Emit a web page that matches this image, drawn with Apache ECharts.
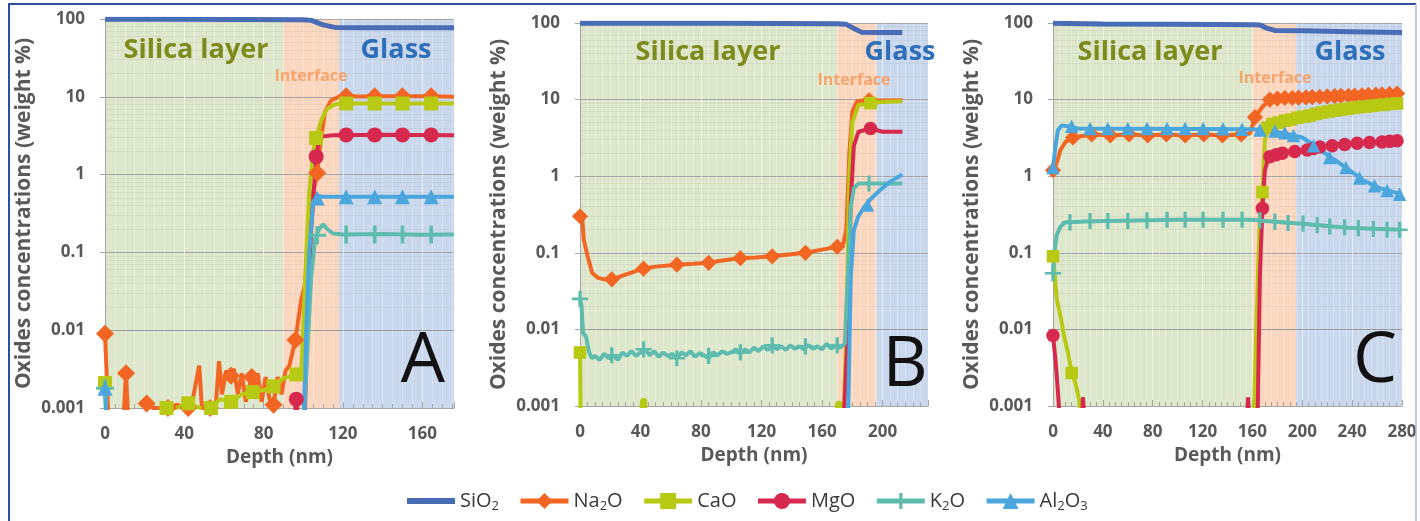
<!DOCTYPE html>
<html>
<head>
<meta charset="utf-8">
<title>Oxides concentration profiles</title>
<script src="https://cdn.jsdelivr.net/npm/echarts@6/dist/echarts.min.js"></script>
<style>
  html, body { margin: 0; padding: 0; background: #fff; }
  #chart { width: 1420px; height: 521px; }
</style>
</head>
<body>
<div id="chart"></div>
<script>
// ---- data: [depth nm, weight %] ----
var oxideNames = ['SiO2', 'Na2O', 'CaO', 'MgO', 'K2O', 'Al2O3'];
var depthTicks = [0, 40, 80, 120, 160, 200, 240, 280];
var concTicks = [0.001, 0.01, 0.1, 1, 10, 100];

// panel A : layer start, interface start, glass start, end of axis
var regionsA = [0, 90, 118, 176];
var sio2A = [[0,99],[30,99],[70,98.5],[100,98],[104,96],[110,84],[116,78],[130,77],[150,77],[176,77]];
var na2oA = [[0,0.009],[2,0.0005],[9,0.0005],[10.6,0.0028],[12,0.0005],[20,0.0005],[21,0.00114],[24,0.001],[31.7,0.001],[36,0.0011],[42,0.001],[44,0.0012],[47.5,0.0035],[49,0.0009],[53,0.001],[56,0.0012],[57.5,0.004],[59,0.0015],[61,0.003],[63.5,0.0026],[65,0.0032],[67,0.0015],[69,0.0028],[71,0.0012],[74,0.0025],[75.5,0.0018],[77,0.0028],[79,0.0012],[81,0.0025],[83,0.0013],[85,0.0011],[87,0.0025],[89,0.0015],[91,0.003],[93,0.0035],[96,0.0075],[99,0.025],[101,0.04],[103,0.2],[105,0.6],[107,1.05],[109,3],[111,6.5],[114,9],[118,10],[121.6,10.2],[130,10.1],[136,10.2],[150,10.2],[164.5,10.2],[176,10]];
var na2oAMarks = [[0,0.009],[10.6,0.0028],[21,0.00114],[31.7,0.001],[42,0.001],[53,0.001],[63.5,0.0026],[74,0.0025],[85,0.0011],[96,0.0075],[107,1.05],[121.6,10.2],[136,10.2],[150,10.2],[164.5,10.2]];
var caoA = [[0,0.0021],[1,0.0005],[28,0.0005],[31,0.001],[36,0.001],[42,0.00115],[48,0.001],[53.5,0.001],[58,0.0013],[63.6,0.0012],[69,0.0015],[74.5,0.0016],[80,0.0017],[85,0.0019],[90,0.0024],[96.5,0.0027],[99,0.003],[101,0.05],[103,0.6],[105,2],[106.5,2.95],[109,5],[112,7],[116,8],[121.6,8.2],[150,8.2],[176,8.2]];
var caoAMarks = [[0,0.0021],[31,0.001],[42,0.00115],[53.5,0.001],[63.6,0.0012],[74.5,0.0016],[85,0.0019],[96.5,0.0027],[106.5,2.95],[121.6,8.2],[136,8.2],[150,8.2],[164.5,8.2]];
var mgoA = [[95,0.0005],[96.5,0.0013],[98,0.0005],[100.5,0.0005],[102,0.01],[104,0.2],[106.5,1.7],[108,2.8],[110,3.1],[115,3.2],[140,3.25],[176,3.2]];
var mgoAMarks = [[96.5,0.0013],[106.5,1.7],[121.6,3.24],[136,3.24],[150,3.24],[164.5,3.24]];
var k2oA = [[0,0.0018],[1,0.0005],[100,0.0005],[102,0.005],[104,0.05],[106,0.15],[108,0.2],[110,0.23],[112,0.2],[115,0.175],[120,0.17],[140,0.172],[160,0.168],[176,0.17]];
var k2oAMarks = [[0,0.0018],[107,0.166],[121.6,0.17],[136,0.17],[150,0.17],[164.5,0.17]];
var al2o3A = [[0,0.0018],[1,0.0005],[100,0.0005],[101.5,0.01],[103,0.1],[105,0.45],[107,0.53],[110,0.52],[140,0.52],[176,0.52]];
var al2o3AMarks = [[0,0.0018],[107,0.5],[121.6,0.52],[136,0.52],[150,0.52],[164.5,0.52]];

// panel B
var regionsB = [0, 170, 196, 230];
var sio2B = [[0,99],[100,99],[170,98],[176,96],[181,85],[186,76],[200,75],[213,75]];
var na2oB = [[0,0.3],[1.5,0.28],[2.5,0.15],[5,0.09],[8,0.055],[12,0.047],[16,0.045],[21,0.045],[30,0.052],[42,0.062],[50,0.066],[64,0.07],[75,0.072],[85,0.074],[95,0.08],[106,0.085],[116,0.087],[127,0.09],[138,0.095],[149,0.1],[160,0.11],[170,0.12],[174,0.13],[176,0.2],[178,2],[180,7],[183,9.5],[191,9.8],[200,9.7],[213,9.8]];
var na2oBMarks = [[0,0.3],[21,0.045],[42,0.062],[64,0.07],[85,0.074],[106,0.085],[127,0.09],[149,0.1],[170,0.12],[191,9.8]];
var caoB = [[0,0.005],[0.5,0.0005],[40,0.0005],[41,0.0012],[43,0.0012],[44,0.0005],[168,0.0005],[170,0.0011],[172,0.0011],[174,0.0005],[176,0.01],[178,1],[180,5],[184,8.5],[192,9],[200,9.3],[213,9.5]];
var caoBMarks = [[0,0.005],[192,9]];
var mgoB = [[174,0.0005],[177,0.01],[179,0.5],[181,2.5],[184,3.8],[192,4.2],[200,3.8],[213,3.8]];
var mgoBMarks = [[192,4.2]];
var k2oB = [[0,0.025],[1,0.02],[2,0.009],[4,0.008],[6,0.005],[8,0.0042],[10,0.0045],[13,0.004],[16,0.0048],[19,0.0042],[22,0.0046],[25,0.004],[28,0.005],[31,0.0045],[34,0.0052],[37,0.0045],[40,0.005],[43,0.0055],[46,0.0046],[49,0.0052],[52,0.0044],[55,0.005],[58,0.0045],[61,0.0048],[64,0.0042],[67,0.005],[70,0.0046],[73,0.0052],[76,0.0044],[79,0.0049],[82,0.0046],[85,0.0042],[88,0.005],[91,0.0046],[94,0.0052],[97,0.0048],[100,0.005],[103,0.0055],[106,0.0048],[109,0.0055],[112,0.005],[115,0.0058],[118,0.0052],[121,0.006],[124,0.0054],[127,0.0062],[130,0.0055],[133,0.006],[136,0.0054],[139,0.0062],[142,0.0056],[145,0.006],[148,0.0055],[151,0.0062],[154,0.0056],[157,0.006],[160,0.0055],[163,0.0065],[166,0.0056],[169,0.0062],[172,0.0058],[175,0.0065],[177,0.05],[179,0.4],[181,0.7],[184,0.8],[192,0.8],[200,0.8],[213,0.8]];
var k2oBMarks = [[0,0.025],[21,0.0046],[42,0.0055],[64,0.0042],[85,0.0045],[106,0.005],[127,0.0062],[149,0.006],[170,0.0062],[191,0.8]];
var al2o3B = [[177,0.0005],[179,0.05],[181,0.2],[184,0.3],[188,0.4],[192,0.5],[198,0.65],[205,0.85],[213,1.05]];
var al2o3BMarks = [[190,0.42]];

// panel C
var regionsC = [0, 160, 195, 280];
var sio2C = [[0,99],[40,97],[100,96],[160,95],[166,94],[172,85],[178,80],[200,79],[240,77],[280,75]];
var na2oC = [[0,1.2],[3,1.5],[6,2.2],[10,2.8],[16,3.2],[31,3.5],[46,3.4],[61,3.5],[76,3.4],[91,3.5],[106,3.4],[121,3.5],[136,3.4],[151,3.5],[158,3.6],[162,5.9],[168,8],[174,10],[186,10.5],[197,10.6],[208,10.8],[220,11],[231,11.2],[242,11.3],[253,11.5],[264,11.7],[280,12]];
var na2oCMarks = [[0,1.2],[16,3.2],[31,3.5],[46,3.4],[61,3.5],[76,3.4],[91,3.5],[106,3.4],[121,3.5],[136,3.4],[151,3.5],[162,5.9],[174,10],[180,10.3],[186,10.5],[192,10.5],[197,10.6],[203,10.7],[208,10.8],[214,10.9],[220,11],[226,11.1],[231,11.2],[237,11.2],[242,11.3],[248,11.4],[253,11.5],[259,11.6],[264,11.7],[270,11.8],[276,12]];
var caoC = [[0,0.09],[1,0.06],[3,0.025],[6,0.015],[9,0.008],[12,0.005],[15,0.0027],[18,0.002],[21,0.0012],[23,0.0005],[161,0.0005],[163,0.01],[166,0.3],[168,0.62],[170,3],[173,4.5],[180,5],[190,5.5],[200,6],[220,7],[240,7.8],[260,8.5],[280,9]];
var caoCMarks = [[0,0.09],[15,0.0027],[168,0.62],[172,4.3],[176,4.8],[181,5],[186,5.3],[191,5.5],[196,5.8],[201,6],[206,6.2],[211,6.5],[216,6.8],[221,7],[226,7.2],[231,7.4],[236,7.6],[241,7.8],[246,8],[251,8.1],[256,8.3],[261,8.5],[266,8.6],[271,8.8],[276,8.9]];
var mgoC = [[0,0.0083],[2,0.004],[4,0.0015],[6,0.0005],[23,0.0005],[24,0.0013],[26,0.0005],[155,0.0005],[156.5,0.0013],[158,0.0005],[164,0.0005],[166,0.05],[168,0.38],[170,1.2],[173,1.8],[180,1.9],[190,2.1],[200,2.2],[220,2.5],[240,2.7],[260,2.8],[280,2.9]];
var mgoCMarks = [[0,0.0083],[168,0.38],[174,1.8],[179,1.9],[184,2],[194,2.1],[204,2.2],[209,2.3],[214,2.4],[224,2.5],[234,2.6],[244,2.7],[254,2.75],[264,2.8],[270,2.85],[276,2.9]];
var k2oC = [[0,0.054],[1,0.1],[3,0.17],[6,0.22],[10,0.25],[40,0.26],[100,0.27],[160,0.27],[170,0.26],[200,0.24],[240,0.21],[280,0.2]];
var k2oCMarks = [[0,0.054],[13.6,0.25],[29.7,0.26],[44,0.26],[60,0.26],[75.4,0.265],[91.5,0.27],[106,0.27],[120.4,0.27],[136.4,0.27],[151.7,0.27],[166,0.265],[178,0.255],[188.6,0.245],[200.6,0.24],[212,0.23],[222,0.22],[234,0.215],[245,0.21],[257,0.205],[268,0.2],[278,0.2]];
var al2o3C = [[0,1.3],[2,2.5],[4,4],[7,4.6],[12,4.5],[20,4.2],[160,4.1],[175,3.9],[190,3.5],[200,3.2],[210,2.5],[222,1.8],[235,1.3],[248,0.9],[262,0.7],[280,0.58]];
var al2o3CMarks = [[0,1.3],[15,4.5],[29.7,4.2],[44,4.2],[60,4.2],[75.4,4.2],[91.5,4.2],[106,4.2],[120.4,4.2],[136.4,4.15],[151.7,4.1],[166,4],[178,3.9],[186,3.7],[193,3.4],[209,2.5],[222,1.75],[235,1.3],[246,0.95],[258,0.75],[268,0.65],[278,0.58]];

// ---- styling ----
var FONT = '"Open Sans", "DejaVu Sans", sans-serif';
var GREY = '#595959';
var oxideColors = ['#4a6bb5', '#f26522', '#b8c914', '#d6294d', '#5ebcae', '#4aa6dd'];
var plusPath = 'path://M4,0H6V4.2H10V5.8H6V10H4V5.8H0V4.2H4Z';
var oxideSymbols = ['none', 'diamond', 'rect', 'circle', plusPath, 'triangle'];
var oxideSizes = [0, 18, 14, 15, 18, 15];
var regionColors = ['#dde7cb', '#fbd7bf', '#c9d8ed'];

var panels = [
  { grid: { left: 105, top: 19, width: 349, height: 389 }, regions: regionsA,
    traces: [sio2A, na2oA, caoA, mgoA, k2oA, al2o3A],
    marks: [[], na2oAMarks, caoAMarks, mgoAMarks, k2oAMarks, al2o3AMarks], size: 1 },
  { grid: { left: 580, top: 23, width: 348, height: 383 }, regions: regionsB,
    traces: [sio2B, na2oB, caoB, mgoB, k2oB, al2o3B],
    marks: [[], na2oBMarks, caoBMarks, mgoBMarks, k2oBMarks, al2o3BMarks], size: 0.9 },
  { grid: { left: 1053, top: 23, width: 349, height: 383 }, regions: regionsC,
    traces: [sio2C, na2oC, caoC, mgoC, k2oC, al2o3C],
    marks: [[], na2oCMarks, caoCMarks, mgoCMarks, k2oCMarks, al2o3CMarks], size: 0.9 }
];

// faint log minor grid lines (2..9 within each decade)
var minorLines = [];
concTicks.slice(0, -1).forEach(function (t) {
  for (var m = 2; m <= 9; m++) minorLines.push({ yAxis: t * m });
});

var grids = [], xAxes = [], yAxes = [], series = [];

panels.forEach(function (p, i) {
  grids.push(p.grid);
  xAxes.push({
    type: 'value', gridIndex: i, min: 0, max: p.regions[3], interval: 40, z: 1,
    axisLine: { show: true, onZero: false, lineStyle: { color: '#a6a6a6', width: 1 } },
    axisTick: { show: true, length: 6, inside: true, lineStyle: { color: '#a6a6a6' } },
    minorTick: { show: true, splitNumber: 8, length: 4, lineStyle: { color: '#a6a6a6' } },
    splitLine: { show: true, lineStyle: { color: 'rgba(255,255,255,0.6)' } },
    minorSplitLine: { show: true, lineStyle: { color: 'rgba(255,255,255,0.25)' } },
    axisLabel: {
      margin: 18, fontSize: 17, fontWeight: 'bold', color: GREY, fontFamily: FONT,
      formatter: function (v) { return depthTicks.indexOf(v) >= 0 ? String(v) : ''; }
    },
    name: 'Depth (nm)', nameLocation: 'middle', nameGap: 40,
    nameTextStyle: { fontSize: 19, fontWeight: 'bold', color: GREY, fontFamily: FONT }
  });
  yAxes.push({
    type: 'log', logBase: 10, gridIndex: i, min: concTicks[0], max: concTicks[concTicks.length - 1], z: 1,
    axisLine: { show: true, lineStyle: { color: '#a6a6a6' } },
    axisTick: { show: true, length: 5, lineStyle: { color: '#a6a6a6' } },
    splitLine: { show: true, lineStyle: { color: '#a3a3a3' } },
    axisLabel: {
      margin: 20, fontSize: 17, fontWeight: 'bold', color: GREY, fontFamily: FONT,
      formatter: function (v) { return String(parseFloat(Number(v).toPrecision(6))); }
    },
    name: 'Oxides concentrations (weight %)', nameLocation: 'middle', nameGap: 70,
    nameTextStyle: { fontSize: 21, fontWeight: 'bold', color: GREY, fontFamily: FONT }
  });

  // coloured background bands: silica layer / interface / glass
  series.push({
    name: 'bg', type: 'line', xAxisIndex: i, yAxisIndex: i, data: [], silent: true, z: 0,
    markArea: {
      silent: true, z: 0,
      data: [0, 1, 2].map(function (k) {
        return [{ xAxis: p.regions[k], itemStyle: { color: regionColors[k], opacity: 1 } },
                { xAxis: p.regions[k + 1] }];
      })
    },
    markLine: {
      silent: true, z: 1, symbol: 'none', label: { show: false },
      lineStyle: { color: 'rgba(150,150,150,0.13)', width: 1, type: 'solid' },
      data: minorLines
    }
  });

  oxideNames.forEach(function (name, k) {
    series.push({
      name: name, type: 'line', xAxisIndex: i, yAxisIndex: i, z: 3,
      data: p.traces[k], symbol: oxideSymbols[k], showSymbol: false,
      color: oxideColors[k],
      lineStyle: { width: k === 0 ? 5 : 4, color: oxideColors[k] },
      itemStyle: { color: oxideColors[k] },
      emphasis: { disabled: true }
    });
    if (p.marks[k].length) {
      series.push({
        name: name, type: 'scatter', xAxisIndex: i, yAxisIndex: i, z: 3,
        data: p.marks[k], symbol: oxideSymbols[k], symbolSize: oxideSizes[k] * p.size,
        itemStyle: { color: oxideColors[k], opacity: 1 },
        emphasis: { disabled: true }
      });
    }
  });
});

function subscript(name) {
  return name.replace(/([A-Za-z]+)(\d?)/g, function (m, a, d) {
    return '{n|' + a + '}' + (d ? '{s|' + d + '}' : '');
  });
}

function txt(x, y, s, size, color, weight) {
  return {
    type: 'text', x: x, y: y, z: 100,
    style: { text: s, fontSize: size, fontWeight: weight || 'bold', fill: color, fontFamily: FONT,
             textAlign: 'center', textVerticalAlign: 'middle' }
  };
}

var labels = [
  txt(196, 50, 'Silica layer', 27, '#7d8a1c'), txt(396, 50, 'Glass', 27, '#2f6fba'),
  txt(311, 76, 'Interface', 16, '#f5a46c'), txt(423, 362, 'A', 70, '#111', 'normal'),
  txt(708, 52, 'Silica layer', 27, '#7d8a1c'), txt(900, 52, 'Glass', 27, '#2f6fba'),
  txt(854, 80, 'Interface', 16, '#f5a46c'), txt(905, 366, 'B', 70, '#111', 'normal'),
  txt(1150, 52, 'Silica layer', 27, '#7d8a1c'), txt(1350, 52, 'Glass', 27, '#2f6fba'),
  txt(1275, 78, 'Interface', 16, '#f5a46c'), txt(1375, 362, 'C', 70, '#111', 'normal'),
  { type: 'line', z: 100, shape: { x1: 8, y1: 4, x2: 1416, y2: 4 }, style: { stroke: '#2e4f9e', lineWidth: 2 } },
  { type: 'line', z: 100, shape: { x1: 9, y1: 4, x2: 9, y2: 521 }, style: { stroke: '#2e4f9e', lineWidth: 2 } },
  { type: 'line', z: 100, shape: { x1: 1416, y1: 4, x2: 1416, y2: 521 }, style: { stroke: '#aab4d6', lineWidth: 1.5 } }
];

var chart = echarts.init(document.getElementById('chart'), null, { renderer: 'canvas' });
chart.setOption({
  animation: false,
  backgroundColor: '#ffffff',
  grid: grids,
  xAxis: xAxes,
  yAxis: yAxes,
  legend: {
    left: 407, top: 491, padding: 0, itemWidth: 48, itemHeight: 20, itemGap: 19,
    lineStyle: { width: 5 },
    data: oxideNames.map(function (n, k) {
      return k === 0 ? { name: n, icon: 'path://M0,0H48V6H0Z' } : { name: n };
    }),
    formatter: subscript,
    textStyle: {
      color: '#3a3a3a', fontFamily: FONT,
      rich: {
        n: { fontSize: 20, color: '#3a3a3a', fontFamily: FONT },
        s: { fontSize: 13, color: '#3a3a3a', fontFamily: FONT, padding: [10, 0, 0, 0] }
      }
    }
  },
  graphic: labels,
  series: series
});
</script>
</body>
</html>
